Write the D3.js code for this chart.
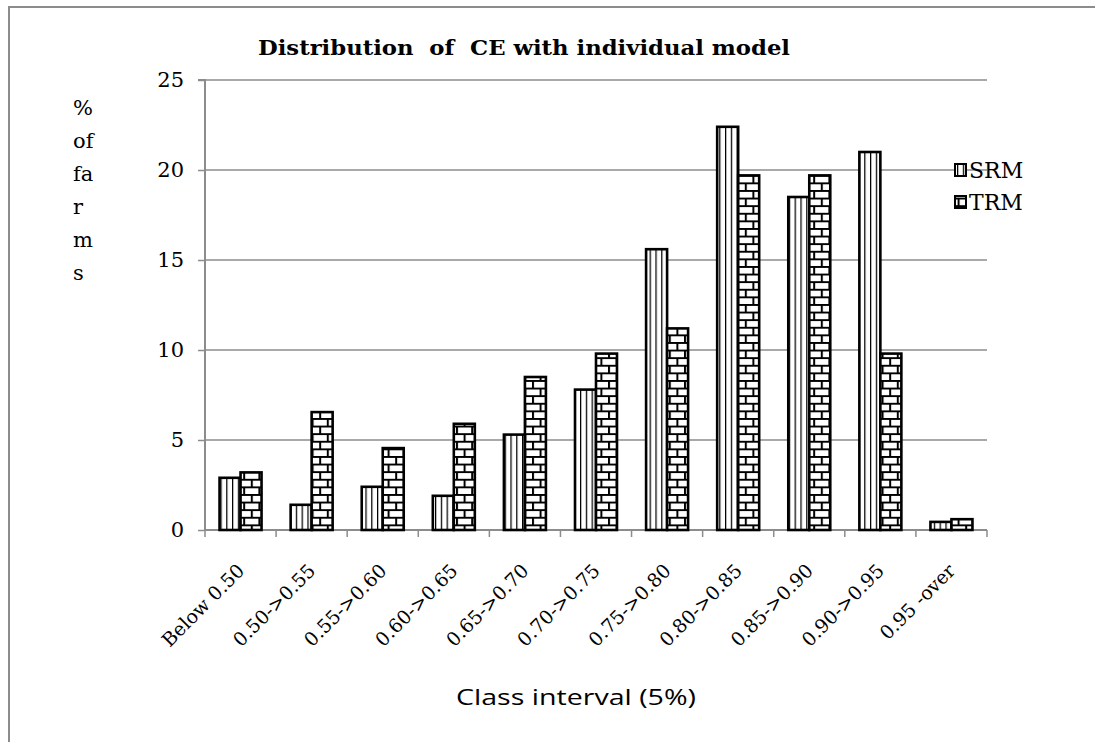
<!DOCTYPE html>
<html>
<head>
<meta charset="utf-8">
<script src="https://cdn.jsdelivr.net/npm/d3@7"></script>
<style>
  html, body { margin: 0; padding: 0; background: #fff; }
  svg { display: block; }
</style>
</head>
<body>
<svg id="chart" width="1095" height="742"></svg>
<script>
// Class intervals of CE and share of farms (%) per model
const categories = ["Below 0.50", "0.50->0.55", "0.55->0.60", "0.60->0.65", "0.65->0.70",
  "0.70->0.75", "0.75->0.80", "0.80->0.85", "0.85->0.90", "0.90->0.95", "0.95 -over"];
const srmValues = [2.9, 1.4, 2.4, 1.9, 5.3, 7.8, 15.6, 22.4, 18.5, 21.0, 0.45];
const trmValues = [3.2, 6.55, 4.55, 5.9, 8.5, 9.8, 11.2, 19.7, 19.7, 9.8, 0.6];
const seriesNames = ["SRM", "TRM"];
const yTicks = [0, 5, 10, 15, 20, 25];

const svg = d3.select("#chart");
const serif = "'DejaVu Serif', 'Liberation Serif', serif";
const sans = "'Open Sans', Lato, 'Noto Sans', sans-serif";
const grey = "#8c8c8c";

// Outer chart frame
svg.append("path")
  .attr("d", "M9,742 V7 H1095")
  .attr("fill", "none").attr("stroke", grey).attr("stroke-width", 2);

const plot = { left: 205, right: 987, top: 80, bottom: 530 };

const x = d3.scaleBand().domain(categories).range([plot.left, plot.right]).paddingInner(0).paddingOuter(0);
const y = d3.scaleLinear().domain([0, 25]).range([plot.bottom, plot.top]);
const barW = 21;

// Fill patterns: vertical stripes and horizontal bricks
const defs = svg.append("defs");
const vp = defs.append("pattern").attr("id", "vstripe").attr("patternUnits", "userSpaceOnUse")
  .attr("width", 5.8).attr("height", 10);
vp.append("rect").attr("width", 5.8).attr("height", 10).attr("fill", "#fff");
vp.append("line").attr("x1", 0.6).attr("x2", 0.6).attr("y1", 0).attr("y2", 10)
  .attr("stroke", "#000").attr("stroke-width", 1.3);

const bs = 7.6;
const bp = defs.append("pattern").attr("id", "brick").attr("patternUnits", "userSpaceOnUse")
  .attr("width", bs * 2).attr("height", bs * 2);
bp.append("rect").attr("width", bs * 2).attr("height", bs * 2).attr("fill", "#fff");
bp.append("path")
  .attr("d", `M0,1 H${bs*2} M0,${bs+1} H${bs*2} M1,0 V${bs+1} M${bs+1},${bs} V${bs*2}`)
  .attr("stroke", "#000").attr("stroke-width", 2).attr("fill", "none");

// Gridlines
svg.append("g").selectAll("line").data(yTicks.filter(d => d > 0)).join("line")
  .attr("x1", plot.left).attr("x2", plot.right)
  .attr("y1", d => y(d)).attr("y2", d => y(d))
  .attr("stroke", grey).attr("stroke-width", 1.5);

// Y axis
const yAxis = svg.append("g").attr("transform", `translate(${plot.left},0)`)
  .call(d3.axisLeft(y).tickValues(yTicks).tickSize(7).tickPadding(14));
yAxis.select(".domain").attr("stroke", grey).attr("stroke-width", 2).attr("d", `M-7,${plot.top}H0V${plot.bottom}`);
yAxis.selectAll(".tick line").attr("stroke", grey).attr("stroke-width", 1.5);
yAxis.selectAll(".tick text").attr("font-family", serif).attr("font-size", 21).attr("fill", "#000");

// X axis (ticks at category boundaries)
const bounds = categories.map(c => x(c)).concat([plot.right]);
svg.append("line").attr("x1", plot.left).attr("x2", plot.right)
  .attr("y1", plot.bottom).attr("y2", plot.bottom)
  .attr("stroke", grey).attr("stroke-width", 2);
svg.append("g").selectAll("line").data(bounds).join("line")
  .attr("x1", d => d).attr("x2", d => d)
  .attr("y1", plot.bottom).attr("y2", plot.bottom + 7)
  .attr("stroke", grey).attr("stroke-width", 1.5);

// Rotated category labels
svg.append("g").selectAll("text").data(categories).join("text")
  .attr("transform", d => `translate(${x(d) + x.bandwidth() / 2 + 5},${plot.bottom + 42}) rotate(-45)`)
  .attr("text-anchor", "end")
  .attr("font-family", serif).attr("font-size", 19).attr("fill", "#000")
  .text(d => d);

// Bars
const groups = [srmValues, trmValues];
const fills = ["url(#vstripe)", "url(#brick)"];
groups.forEach((vals, si) => {
  svg.append("g").selectAll("rect").data(vals).join("rect")
    .attr("x", (d, i) => x(categories[i]) + x.bandwidth() / 2 - barW + si * barW)
    .attr("y", d => y(d))
    .attr("width", barW)
    .attr("height", d => y(0) - y(d))
    .attr("fill", fills[si])
    .attr("stroke", "#000").attr("stroke-width", 2.6);
});

// Title
svg.append("text").attr("x", 524).attr("y", 55).attr("text-anchor", "middle")
  .attr("font-family", serif).attr("font-weight", "bold").attr("font-size", 20)
  .attr("textLength", 532).attr("lengthAdjust", "spacingAndGlyphs")
  .attr("fill", "#000").attr("xml:space", "preserve")
  .text("Distribution  of  CE with individual model");

// Vertical y-axis title, one fragment per line
const yTitle = ["%", "of", "fa", "r", "m", "s"];
svg.append("g").selectAll("text").data(yTitle).join("text")
  .attr("x", 73).attr("y", (d, i) => 115 + i * 33)
  .attr("font-family", serif).attr("font-size", 21).attr("fill", "#000")
  .text(d => d);

// X-axis title
svg.append("text").attr("x", 576).attr("y", 705).attr("text-anchor", "middle")
  .attr("font-family", sans).attr("font-size", 22)
  .attr("textLength", 240).attr("lengthAdjust", "spacingAndGlyphs")
  .attr("fill", "#000")
  .text("Class interval (5%)");

// Legend
const legend = svg.append("g");
seriesNames.forEach((name, i) => {
  const ly = 170 + i * 32;
  legend.append("rect").attr("x", 955).attr("y", ly - 6).attr("width", 11).attr("height", 12)
    .attr("fill", fills[i]).attr("stroke", "#000").attr("stroke-width", 2);
  legend.append("text").attr("x", 969).attr("y", ly + 8)
    .attr("font-family", serif).attr("font-size", 22).attr("fill", "#000")
    .text(name);
});
</script>
</body>
</html>
